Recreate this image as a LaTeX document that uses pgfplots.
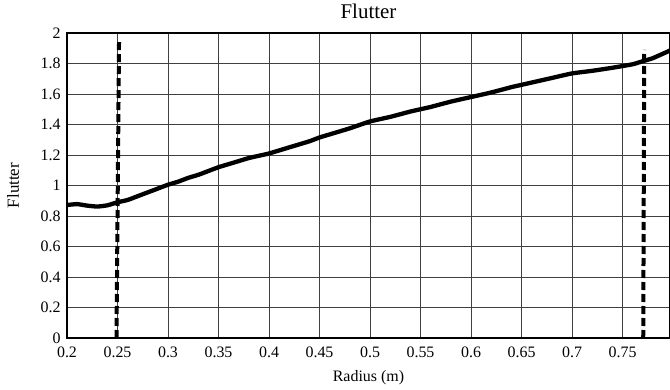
\documentclass[border=0pt]{standalone}
\usepackage{fontspec}
\setmainfont{Liberation Serif}
\usepackage{pgfplots}
\pgfplotsset{compat=1.18}
\begin{document}
\begin{tikzpicture}
\begin{axis}[
  scale only axis, width=603bp, height=305bp,
  xmin=0.2, xmax=0.797, ymin=0, ymax=2,
  xtick={0.2,0.25,0.3,0.35,0.4,0.45,0.5,0.55,0.6,0.65,0.7,0.75},
  xticklabels={0.2,0.25,0.3,0.35,0.4,0.45,0.5,0.55,0.6,0.65,0.7,0.75},
  ytick={0,0.2,0.4,0.6,0.8,1,1.2,1.4,1.6,1.8,2},
  yticklabels={0,0.2,0.4,0.6,0.8,1,1.2,1.4,1.6,1.8,2},
  grid=major, major grid style={black!75, line width=0.6pt},
  major tick length=0pt,
  axis line style={line width=1.2pt},
  tick label style={font=\fontsize{16}{16}\selectfont},
  yticklabel style={xshift=-3bp},
  xticklabel style={yshift=-5bp},
  /pgf/number format/assume math mode=true,
  title={Flutter},
  title style={font=\fontsize{21}{21}\selectfont, at={(axis description cs:0.5,1)}, anchor=center, yshift=16bp},
  xlabel={Radius (m)},
  xlabel style={font=\fontsize{16}{16}\selectfont, at={(axis description cs:0.5,0)}, anchor=center, yshift=-40bp},
  ylabel={Flutter},
  ylabel style={font=\fontsize{17}{17}\selectfont, at={(axis description cs:0,0.5)}, anchor=center, yshift=54bp},
  clip=true,
]
\addplot[black, line width=4.3bp, smooth, tension=0.3] coordinates {
(0.200,0.872) (0.210,0.878) (0.220,0.868) (0.230,0.862) (0.240,0.870)
(0.250,0.890) (0.260,0.905) (0.270,0.930) (0.280,0.955) (0.290,0.980)
(0.300,1.005) (0.310,1.025) (0.320,1.050) (0.330,1.070) (0.340,1.095)
(0.350,1.120) (0.360,1.140) (0.370,1.160) (0.380,1.180) (0.390,1.195)
(0.400,1.210) (0.420,1.250) (0.440,1.290) (0.450,1.315) (0.460,1.335)
(0.480,1.375) (0.500,1.420) (0.520,1.450) (0.540,1.485) (0.550,1.500)
(0.560,1.515) (0.580,1.550) (0.600,1.580) (0.620,1.610) (0.640,1.645)
(0.650,1.660) (0.660,1.675) (0.680,1.705) (0.700,1.735) (0.720,1.752)
(0.740,1.772) (0.760,1.795) (0.770,1.815) (0.780,1.835) (0.797,1.885)
};
\addplot[black, line width=4bp, dash pattern=on 8bp off 4bp] coordinates {(0.249,0) (0.2515,1.94)};
\addplot[black, line width=4bp, dash pattern=on 8bp off 4bp] coordinates {(0.7705,0) (0.7715,1.89)};
\coordinate (bl) at (rel axis cs:0,0);
\coordinate (tr) at (rel axis cs:1,1);
\end{axis}
\pgfresetboundingbox
\path (bl) ++(-67bp,-52bp) coordinate (BB1);
\path (tr) ++(0bp,33bp) coordinate (BB2);
\path[use as bounding box] (BB1) rectangle (BB2);
\end{tikzpicture}
\end{document}
